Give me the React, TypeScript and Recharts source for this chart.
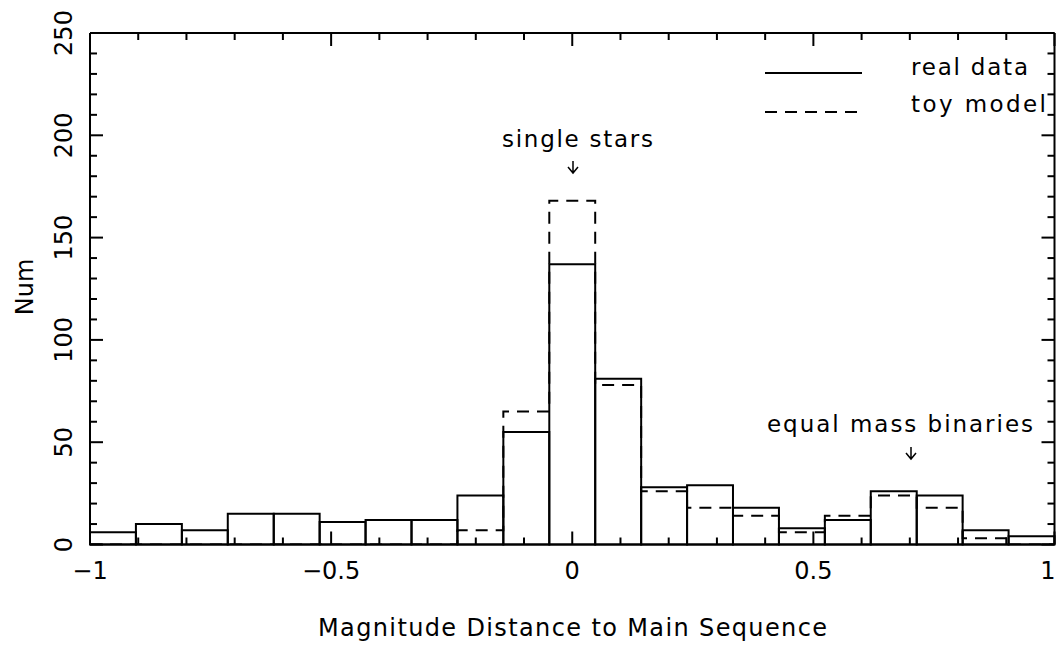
import {
  ComposedChart,
  Line,
  XAxis,
  YAxis,
  ReferenceArea,
  Customized,
} from 'recharts'

// histogram bins: 21 bins between -1 and 1
const binEdges = [
  -1, -0.9048, -0.8095, -0.7143, -0.619, -0.5238, -0.4286, -0.3333, -0.2381, -0.1429, -0.0476,
  0.0476, 0.1429, 0.2381, 0.3333, 0.4286, 0.5238, 0.619, 0.7143, 0.8095, 0.9048, 1,
]
const realCounts = [6, 10, 7, 15, 15, 11, 12, 12, 24, 55, 137, 81, 28, 29, 18, 8, 12, 26, 24, 7, 4]
const toyCounts = [0, 0, 0, 0, 0, 0, 0, 0, 7, 65, 168, 78, 26, 18, 14, 6, 14, 24, 18, 3, 0]

const xTicks = [
  -1, -0.9, -0.8, -0.7, -0.6, -0.5, -0.4, -0.3, -0.2, -0.1, 0,
  0.1, 0.2, 0.3, 0.4, 0.5, 0.6, 0.7, 0.8, 0.9, 1,
]
const xTickLabels = ['\u22121', '\u22120.5', '0', '0.5', '1']
const xMajor = [-1, -0.5, 0, 0.5, 1]
const yTicks = [0, 10, 20, 30, 40, 50, 60, 70, 80, 90, 100, 110, 120, 130, 140, 150, 160, 170, 180, 190, 200, 210, 220, 230, 240, 250]
const yMajor = [0, 50, 100, 150, 200, 250]

const FONT = '"DejaVu Sans", sans-serif'
const MAJOR = 13
const MINOR = 7

const toyStep = binEdges.map((x, i) => ({ x, toy: toyCounts[Math.min(i, toyCounts.length - 1)] }))

function isMajorX(v: number) {
  return xMajor.some((m) => Math.abs(m - v) < 1e-6)
}

function BottomTick(props: any) {
  const { x, y, payload } = props
  const idx = xMajor.findIndex((m) => Math.abs(m - payload.value) < 1e-6)
  const len = idx >= 0 ? MAJOR : MINOR
  // last label sits on the page edge, keep it inside
  const last = idx === xMajor.length - 1
  return (
    <g>
      <line x1={x} x2={x} y1={y} y2={y - len} stroke="#000" strokeWidth={2} />
      {idx >= 0 && (
        <text
          x={last ? x + 1 : x}
          y={y + 34}
          textAnchor={last ? 'end' : 'middle'}
          fontFamily={FONT}
          fontSize={24}
          fill="#000"
        >
          {xTickLabels[idx]}
        </text>
      )}
    </g>
  )
}

function TopTick(props: any) {
  const { x, y, payload } = props
  const len = isMajorX(payload.value) ? MAJOR : MINOR
  return <line x1={x} x2={x} y1={y} y2={y + len} stroke="#000" strokeWidth={2} />
}

function LeftTick(props: any) {
  const { x, y, payload } = props
  const major = yMajor.includes(payload.value)
  const len = major ? MAJOR : MINOR
  const tx = x - 18
  return (
    <g>
      <line x1={x} x2={x + len} y1={y} y2={y} stroke="#000" strokeWidth={2} />
      {major && (
        <text
          x={tx}
          y={y}
          transform={`rotate(-90, ${tx}, ${y})`}
          textAnchor="middle"
          fontFamily={FONT}
          fontSize={24}
          fill="#000"
        >
          {payload.value}
        </text>
      )}
    </g>
  )
}

function RightTick(props: any) {
  const { x, y, payload } = props
  const len = yMajor.includes(payload.value) ? MAJOR : MINOR
  return <line x1={x} x2={x - len} y1={y} y2={y} stroke="#000" strokeWidth={2} />
}

function Annotations() {
  const txt = { fontFamily: FONT, fontSize: 23, fill: '#000' }
  return (
    <g>
      <line x1={765} x2={862} y1={73} y2={73} stroke="#000" strokeWidth={2} />
      <text x={911} y={75} textLength={117} lengthAdjust="spacing" {...txt}>real data</text>
      <line x1={765} x2={862} y1={112} y2={112} stroke="#000" strokeWidth={2} strokeDasharray="12 8" />
      <text x={911} y={112} textLength={135} lengthAdjust="spacing" {...txt}>toy model</text>

      <text x={502} y={147} textLength={151} lengthAdjust="spacing" {...txt}>single stars</text>
      <path d="M573 161 L573 173 M568 167 L573 173 L578 167" stroke="#000" strokeWidth={1.5} fill="none" />

      <text x={767} y={432} textLength={266} lengthAdjust="spacing" {...txt}>equal mass binaries</text>
      <path d="M911 447 L911 459 M906 453 L911 459 L916 453" stroke="#000" strokeWidth={1.5} fill="none" />

      <text x={318} y={636} textLength={509} lengthAdjust="spacing" {...txt} fontSize={24}>
        Magnitude Distance to Main Sequence
      </text>
      <text
        x={33}
        y={287}
        transform="rotate(-90, 33, 287)"
        textAnchor="middle"
        {...txt}
        fontSize={24}
      >
        Num
      </text>
    </g>
  )
}

export default function App() {
  return (
    <div style={{ position: 'absolute', left: 0, top: 0, background: '#fff' }}>
      <ComposedChart
        width={1056}
        height={648}
        data={toyStep}
        margin={{ top: 32, right: 0.5, bottom: 102.5, left: 89 }}
      >
        <XAxis
          xAxisId="bottom"
          dataKey="x"
          type="number"
          domain={[-1, 1]}
          ticks={xTicks}
          allowDataOverflow
          height={1}
          tickSize={0}
          tickMargin={0}
          tickLine={false}
          tick={BottomTick}
          interval={0}
          axisLine={{ stroke: '#000', strokeWidth: 2 }}
        />
        <XAxis
          xAxisId="top"
          orientation="top"
          dataKey="x"
          type="number"
          domain={[-1, 1]}
          ticks={xTicks}
          allowDataOverflow
          height={1}
          tickSize={0}
          tickMargin={0}
          tickLine={false}
          tick={TopTick}
          interval={0}
          axisLine={{ stroke: '#000', strokeWidth: 2 }}
        />
        <YAxis
          yAxisId="left"
          type="number"
          domain={[0, 250]}
          ticks={yTicks}
          allowDataOverflow
          width={1}
          tickSize={0}
          tickMargin={0}
          tickLine={false}
          tick={LeftTick}
          interval={0}
          axisLine={{ stroke: '#000', strokeWidth: 2 }}
        />
        <YAxis
          yAxisId="right"
          orientation="right"
          type="number"
          domain={[0, 250]}
          ticks={yTicks}
          allowDataOverflow
          width={1}
          tickSize={0}
          tickMargin={0}
          tickLine={false}
          tick={RightTick}
          interval={0}
          axisLine={{ stroke: '#000', strokeWidth: 2 }}
        />
        <Line
          xAxisId="bottom"
          yAxisId="left"
          type="stepAfter"
          dataKey="toy"
          stroke="#000"
          strokeWidth={2}
          strokeDasharray="12 8"
          dot={false}
          activeDot={false}
          isAnimationActive={false}
        />
        {realCounts.map((n, i) => (
          <ReferenceArea
            key={`bin-${i}`}
            xAxisId="bottom"
            yAxisId="left"
            x1={binEdges[i]}
            x2={binEdges[i + 1]}
            y1={0}
            y2={n}
            fill="none"
            fillOpacity={0}
            stroke="#000"
            strokeWidth={2}
            ifOverflow="visible"
          />
        ))}
        <Customized component={<Annotations />} />
      </ComposedChart>
    </div>
  )
}
